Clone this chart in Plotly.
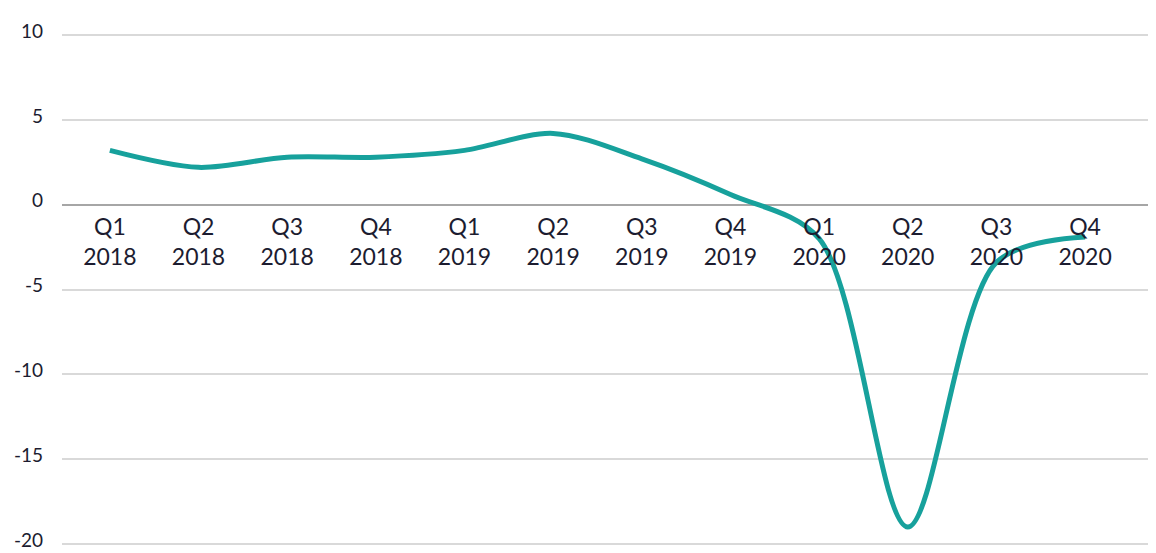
import plotly.graph_objects as go

# quarterly values
quarters = ["Q1", "Q2", "Q3", "Q4", "Q1", "Q2", "Q3", "Q4", "Q1", "Q2", "Q3", "Q4"]
years = ["2018", "2018", "2018", "2018", "2019", "2019", "2019", "2019", "2020", "2020", "2020", "2020"]
growth = [3.2, 2.2, 2.8, 2.8, 3.2, 4.2, 2.7, 0.6, -2.0, -19.0, -3.4, -1.9]
y_ticks = [10, 5, 0, -5, -10, -15, -20]

labels = [f"{q}<br>{y}" for q, y in zip(quarters, years)]
idx = list(range(len(labels)))

y_lo, y_hi = -20.12, 10.12

fig = go.Figure()
fig.add_trace(go.Scatter(
    x=idx, y=growth, mode="lines",
    line=dict(color="#17a19c", width=5, shape="spline", smoothing=0.9),
    hoverinfo="skip", showlegend=False,
))

# page body adds an 8px margin, so the figure is 8px smaller each way
fig.update_layout(
    width=1148, height=545,
    margin=dict(l=54, r=0, t=25, b=7),
    plot_bgcolor="white", paper_bgcolor="white",
    font=dict(family="Lato, sans-serif", color="#1c1c30"),
)

# x axis sits on the zero line
fig.update_xaxes(
    anchor="free", position=(0 - y_lo) / (y_hi - y_lo),
    range=[-0.54, 11.80], automargin=False,
    tickmode="array", tickvals=idx, ticktext=labels,
    showgrid=False, showline=False, zeroline=False, ticks="",
    tickfont=dict(size=23), ticklabelstandoff=6,
)
fig.update_yaxes(
    range=[y_lo, y_hi], automargin=False,
    tickmode="array", tickvals=y_ticks, ticktext=[str(v) for v in y_ticks],
    showgrid=True, gridcolor="#d9d9d9", gridwidth=1.5,
    zeroline=True, zerolinecolor="#a6a6a6", zerolinewidth=1.5,
    showline=False, ticks="", ticklabeloverflow="allow",
    tickfont=dict(size=19), ticklabelstandoff=18, ticklabelshift=-4,
)

fig.write_html("out.html")
